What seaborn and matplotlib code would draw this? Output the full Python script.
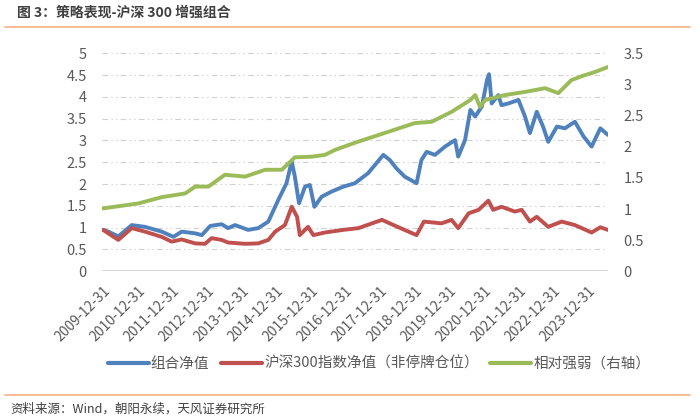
import pandas as pd
import numpy as np
import matplotlib
matplotlib.use("Agg")
import matplotlib.pyplot as plt
import matplotlib.lines as mlines
import seaborn as sns

# 组合净值 (left axis)
port_dates = ['2009-12-31', '2010-02-25', '2010-06-10', '2010-10-30', '2011-03-17', '2011-09-10',
              '2012-01-12', '2012-04-08', '2012-08-28', '2012-11-06', '2013-02-03', '2013-06-03',
              '2013-08-10', '2013-10-22', '2014-03-10', '2014-06-24', '2014-10-08', '2015-01-22',
              '2015-04-18', '2015-06-12', '2015-07-15', '2015-08-28', '2015-10-30', '2015-12-20',
              '2016-02-06', '2016-04-22', '2016-08-07', '2016-12-05', '2017-04-08', '2017-08-25',
              '2018-02-02', '2018-04-12', '2018-06-20', '2018-09-16', '2019-01-18', '2019-03-10',
              '2019-05-04', '2019-07-31', '2019-11-14', '2020-02-28', '2020-04-01', '2020-06-12',
              '2020-08-07', '2020-09-27', '2020-12-06', '2021-01-30', '2021-02-20', '2021-03-20',
              '2021-05-29', '2021-07-01', '2021-09-12', '2021-12-27', '2022-03-06', '2022-04-27',
              '2022-07-08', '2022-09-12', '2022-11-06', '2023-02-06', '2023-05-01', '2023-08-14',
              '2023-11-14', '2024-02-06', '2024-05-08', '2024-07-26']
port_vals = [0.95, 0.91, 0.80, 1.06, 1.02, 0.91,
             0.79, 0.91, 0.87, 0.83, 1.04, 1.08,
             0.99, 1.06, 0.95, 0.99, 1.14, 1.64,
             2.02, 2.52, 2.17, 1.56, 1.94, 1.98,
             1.48, 1.71, 1.83, 1.94, 2.02, 2.25,
             2.67, 2.55, 2.36, 2.17, 2.02, 2.55,
             2.74, 2.67, 2.86, 3.01, 2.63, 3.01,
             3.70, 3.55, 3.78, 4.39, 4.52, 3.85,
             4.04, 3.81, 3.85, 3.93, 3.55, 3.17,
             3.66, 3.32, 2.97, 3.32, 3.28, 3.43,
             3.09, 2.86, 3.28, 3.13]

# 沪深300指数净值（非停牌仓位） (left axis)
hs_dates = ['2009-12-31', '2010-06-10', '2010-10-30', '2011-03-17', '2011-09-10', '2011-12-24',
            '2012-04-08', '2012-08-28', '2012-12-10', '2013-02-17', '2013-06-03', '2013-08-10',
            '2014-02-05', '2014-06-24', '2014-10-08', '2014-12-20', '2015-04-01', '2015-06-12',
            '2015-08-07', '2015-09-05', '2015-12-01', '2016-01-26', '2016-05-28', '2016-12-05',
            '2017-05-15', '2018-01-18', '2018-07-01', '2019-01-18', '2019-04-05', '2019-10-08',
            '2020-01-22', '2020-04-01', '2020-07-20', '2020-11-02', '2021-02-13', '2021-04-04',
            '2021-07-01', '2021-11-20', '2022-01-30', '2022-04-27', '2022-07-08', '2022-11-06',
            '2023-03-28', '2023-08-14', '2024-02-06', '2024-05-08', '2024-07-26']
hs_vals = [0.95, 0.72, 0.99, 0.91, 0.79, 0.68,
           0.73, 0.64, 0.63, 0.76, 0.72, 0.66,
           0.63, 0.64, 0.72, 0.91, 1.06, 1.48,
           1.25, 0.83, 1.02, 0.83, 0.89, 0.95,
           0.99, 1.18, 1.02, 0.83, 1.14, 1.10,
           1.18, 0.99, 1.33, 1.41, 1.62, 1.41,
           1.48, 1.37, 1.41, 1.14, 1.25, 1.02,
           1.14, 1.06, 0.89, 1.01, 0.95]

# 相对强弱（右轴）
rel_dates = ['2009-12-31', '2011-01-08', '2011-09-10', '2012-05-15', '2012-08-28', '2013-01-15',
             '2013-07-08', '2014-02-05', '2014-09-05', '2015-02-28', '2015-07-15', '2016-01-08',
             '2016-05-28', '2016-09-12', '2017-04-20', '2018-03-27', '2018-12-31', '2019-06-25',
             '2020-01-22', '2020-08-07', '2020-09-27', '2020-11-17', '2021-01-11', '2021-08-07',
             '2022-03-06', '2022-10-04', '2023-02-20', '2023-07-08', '2023-11-28', '2024-03-13',
             '2024-07-26']
rel_vals = [1.01, 1.09, 1.19, 1.25, 1.36, 1.36,
            1.55, 1.52, 1.63, 1.63, 1.83, 1.84,
            1.87, 1.95, 2.07, 2.24, 2.38, 2.40,
            2.56, 2.75, 2.83, 2.64, 2.75, 2.83,
            2.88, 2.94, 2.86, 3.07, 3.15, 3.20,
            3.28]

tick_labels = ['%d-12-31' % y for y in range(2009, 2024)]
series_names = ['组合净值', '沪深300指数净值（非停牌仓位）', '相对强弱（右轴）']
colors = ['#4F81BD', '#C0504D', '#9BBB59']

df_port = pd.DataFrame({'date': pd.to_datetime(port_dates), 'value': port_vals})
df_hs = pd.DataFrame({'date': pd.to_datetime(hs_dates), 'value': hs_vals})
df_rel = pd.DataFrame({'date': pd.to_datetime(rel_dates), 'value': rel_vals})

sns.set_style('white')
plt.rcParams['font.family'] = ['Noto Sans CJK SC', 'DejaVu Sans']

fig = plt.figure(figsize=(7, 4.19), dpi=100)
ax = fig.add_axes([102 / 700, 1 - 271.3 / 419, 506 / 700, 218 / 419])
ax2 = ax.twinx()

lw = 2.8
sns.lineplot(data=df_port, x='date', y='value', ax=ax, color=colors[0], linewidth=lw)
sns.lineplot(data=df_hs, x='date', y='value', ax=ax, color=colors[1], linewidth=lw)
sns.lineplot(data=df_rel, x='date', y='value', ax=ax2, color=colors[2], linewidth=lw)
ax2.set_zorder(ax.get_zorder() + 1)
ax2.patch.set_visible(False)

ax.set_ylim(0, 5)
ax2.set_ylim(0, 3.5)
ax.set_yticks(np.arange(0, 5.01, 0.5))
ax.set_yticklabels(['0', '0.5', '1', '1.5', '2', '2.5', '3', '3.5', '4', '4.5', '5'])
ax2.set_yticks(np.arange(0, 3.51, 0.5))
ax2.set_yticklabels(['0', '0.5', '1', '1.5', '2', '2.5', '3', '3.5'])
ax.set_xlim(pd.Timestamp('2009-12-20'), pd.Timestamp('2024-07-28'))

ticks = pd.to_datetime(tick_labels)
ax.set_xticks(ticks)
ax.set_xticklabels(tick_labels, rotation=45, ha='right', rotation_mode='anchor')

grid_color = '#D0D0D0'
ax.yaxis.grid(True, color=grid_color, linewidth=0.8, linestyle=(0, (5, 3, 1.2, 3, 1.2, 3)))
ax.xaxis.grid(False)
ax2.grid(False)
for a in (ax, ax2):
    for s in ['top', 'left', 'right', 'bottom']:
        a.spines[s].set_visible(False)
    a.set_xlabel('')
    a.set_ylabel('')
ax.axhline(0, color='#D0D0D0', linewidth=1.2, zorder=1)

ax.tick_params(axis='y', length=0, pad=11, labelsize=10.5, labelcolor='#595959')
ax2.tick_params(axis='y', length=0, pad=11, labelsize=10.5, labelcolor='#595959')
ax.tick_params(axis='x', length=0, pad=9, labelsize=10, labelcolor='#595959')

handles = [mlines.Line2D([], [], color=c, linewidth=3) for c in colors]
fig.legend(handles, series_names, loc='center', bbox_to_anchor=(379 / 700, 1 - 364 / 419),
           ncol=3, frameon=False, fontsize=10.5, handlelength=2.8, handletextpad=0.15,
           columnspacing=0.8, labelcolor='#595959')

fig.text(17 / 700, 1 - 13 / 419, '图 3：策略表现-沪深 300 增强组合', fontsize=10, fontweight='bold',
         color='#404040', va='center', ha='left')
fig.add_artist(mlines.Line2D([5 / 700, 690 / 700], [1 - 27.5 / 419, 1 - 27.5 / 419],
                             color='#F4B183', linewidth=1.2))
fig.add_artist(mlines.Line2D([5 / 700, 690 / 700], [1 - 395 / 419, 1 - 395 / 419],
                             color='#F4B183', linewidth=1.2))
fig.text(10 / 700, 1 - 409 / 419, '资料来源：Wind，朝阳永续，天风证券研究所', fontsize=9,
         color='#404040', va='center', ha='left')

fig.savefig('out.png', dpi=100)
